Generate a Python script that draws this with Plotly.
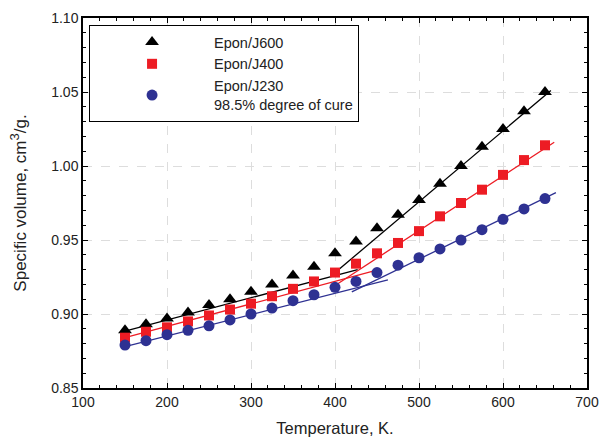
import plotly.graph_objects as go

temps = [150, 175, 200, 225, 250, 275, 300, 325, 350, 375, 400,
         425, 450, 475, 500, 525, 550, 575, 600, 625, 650]
j600 = [0.889, 0.893, 0.897, 0.901, 0.906, 0.910, 0.915, 0.920, 0.926, 0.932, 0.941,
        0.949, 0.958, 0.967, 0.977, 0.988, 1.000, 1.013, 1.025, 1.037, 1.050]
j400 = [0.884, 0.888, 0.891, 0.895, 0.899, 0.903, 0.907, 0.912, 0.917, 0.922, 0.928,
        0.934, 0.941, 0.948, 0.956, 0.966, 0.975, 0.984, 0.994, 1.004, 1.014]
j230 = [0.879, 0.882, 0.886, 0.889, 0.892, 0.896, 0.900, 0.904, 0.909, 0.913, 0.918,
        0.922, 0.928, 0.933, 0.938, 0.944, 0.950, 0.957, 0.964, 0.971, 0.978]

# linear fits (glassy and rubbery) : endpoints [T], [V]
j600_glass_T = [150, 427]; j600_glass_V = [0.8885, 0.930]
j600_rub_T = [396, 657];   j600_rub_V = [0.926, 1.051]
j400_glass_T = [150, 452]; j400_glass_V = [0.884, 0.930]
j400_rub_T = [401, 661];   j400_rub_V = [0.9196, 1.016]
j230_glass_T = [150, 463]; j230_glass_V = [0.878, 0.923]
j230_rub_T = [420, 663];   j230_rub_V = [0.915, 0.982]

names = ["Epon/J600", "Epon/J400", "Epon/J230<br>98.5% degree of cure"]
colors = ["#000000", "#ED1C24", "#2E3192"]
symbols = ["triangle-up", "square", "circle"]
sizes = [12, 10, 11]

fig = go.Figure()
series = [j600, j400, j230]
fits = [(j600_glass_T, j600_glass_V, j600_rub_T, j600_rub_V),
        (j400_glass_T, j400_glass_V, j400_rub_T, j400_rub_V),
        (j230_glass_T, j230_glass_V, j230_rub_T, j230_rub_V)]

for i in range(3):
    gT, gV, rT, rV = fits[i]
    for tx, vy in ((gT, gV), (rT, rV)):
        fig.add_trace(go.Scatter(x=tx, y=vy, mode="lines", showlegend=False,
                                 line=dict(color=colors[i], width=1.3), hoverinfo="skip"))
for i in range(3):
    fig.add_trace(go.Scatter(x=temps, y=series[i], mode="markers", name=names[i],
                             marker=dict(color=colors[i], symbol=symbols[i], size=sizes[i],
                                         line=dict(width=0))))

font = "Liberation Sans, Arial, sans-serif"
axis_common = dict(showline=True, linecolor="black", linewidth=1.5, mirror="ticks",
                   ticks="inside", ticklen=5, tickwidth=1, tickcolor="black",
                   showgrid=True, gridcolor="#dddddd", griddash="dash", gridwidth=1,
                   zeroline=False, automargin=False,
                   tickfont=dict(size=14, color="#222", family=font))

fig.update_xaxes(range=[100, 700], dtick=100, tick0=100,
                 minor=dict(dtick=20, ticks="inside", ticklen=3, tickcolor="black", showgrid=False),
                 title=dict(text="Temperature, K.", font=dict(size=16.5, family=font, color="#222"),
                            standoff=14),
                 **axis_common)
fig.update_yaxes(range=[0.85, 1.10], dtick=0.05, tick0=0.85, tickformat=".2f",
                 minor=dict(dtick=0.01, ticks="inside", ticklen=3, tickcolor="black", showgrid=False),
                 title=dict(text="Specific volume, cm<sup><span style='font-size:13px'>3</span></sup>/g.",
                            font=dict(size=17, family=font, color="#222"), standoff=20),
                 **axis_common)

fig.update_layout(
    width=603, height=444,
    margin=dict(l=83, r=16, t=18, b=56),
    plot_bgcolor="white", paper_bgcolor="white",
    font=dict(family=font, size=14, color="#222"),
    legend=dict(x=0.012, y=0.981, xanchor="left", yanchor="top",
                bgcolor="white", bordercolor="black", borderwidth=1,
                itemwidth=114, font=dict(size=14.5, family=font, color="#222"),
                tracegroupgap=0),
)

fig.write_html("out.html")
